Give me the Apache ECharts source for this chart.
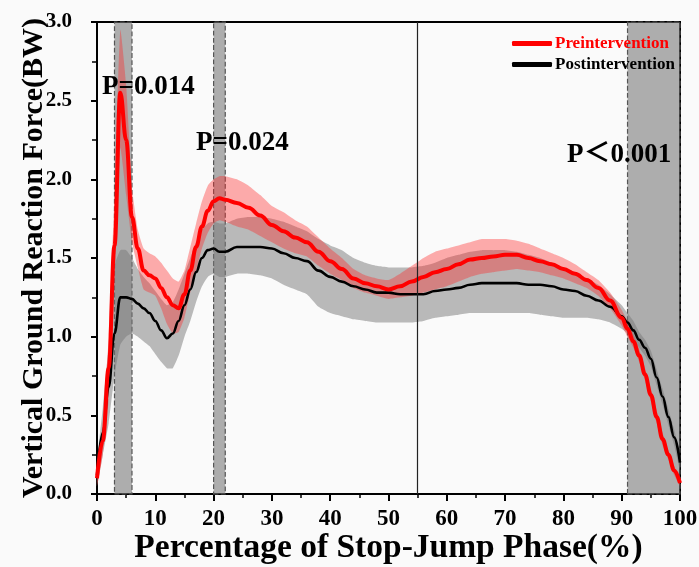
<!DOCTYPE html>
<html>
<head>
<meta charset="utf-8">
<script src="https://cdn.jsdelivr.net/npm/echarts@6/dist/echarts.min.js"></script>
<style>html,body{margin:0;padding:0;background:#fafafa;}#c{width:699px;height:567px;}</style>
</head>
<body>
<div id="c"></div>
<script>
var xs = [0,1,2,3,4,5,6,7,8,9,10,11,12,13,14,15,16,17,18,19,20,21,22,24,26,28,30,32,34,36,38,40,42,44,46,48,50,52,54,56,58,60,62,64,66,68,70,72,74,76,78,80,82,84,86,88,90,91,92,93,94,95,96,97,98,99,100];
var preMean = [0.10,0.34,0.80,1.58,2.55,2.25,1.76,1.56,1.42,1.39,1.37,1.31,1.25,1.20,1.18,1.27,1.42,1.57,1.70,1.80,1.86,1.88,1.87,1.85,1.82,1.77,1.71,1.67,1.63,1.60,1.54,1.48,1.43,1.37,1.34,1.32,1.30,1.32,1.35,1.38,1.41,1.43,1.46,1.49,1.50,1.51,1.52,1.52,1.50,1.48,1.46,1.43,1.40,1.36,1.31,1.23,1.12,1.05,0.97,0.88,0.76,0.63,0.49,0.35,0.25,0.15,0.07];
var preUpper = [0.15,0.45,1.00,1.90,2.95,2.60,1.95,1.68,1.56,1.53,1.51,1.47,1.42,1.37,1.35,1.42,1.57,1.72,1.86,1.96,2.00,2.02,2.02,2.00,1.96,1.90,1.83,1.79,1.74,1.70,1.63,1.56,1.50,1.43,1.39,1.37,1.36,1.40,1.45,1.50,1.54,1.56,1.58,1.60,1.62,1.62,1.62,1.61,1.59,1.56,1.53,1.50,1.46,1.41,1.36,1.28,1.17,1.10,1.01,0.92,0.80,0.67,0.53,0.39,0.28,0.18,0.09];
var preLower = [0.05,0.25,0.60,1.30,2.20,1.90,1.60,1.44,1.30,1.28,1.26,1.18,1.08,1.02,1.03,1.12,1.28,1.42,1.56,1.66,1.72,1.74,1.73,1.70,1.68,1.64,1.60,1.56,1.53,1.51,1.45,1.40,1.36,1.31,1.28,1.26,1.24,1.25,1.26,1.28,1.30,1.32,1.35,1.38,1.40,1.41,1.42,1.43,1.42,1.41,1.39,1.37,1.34,1.31,1.26,1.18,1.07,1.00,0.93,0.84,0.72,0.59,0.45,0.31,0.22,0.12,0.05];
var postMean = [0.12,0.39,0.68,1.02,1.25,1.25,1.24,1.21,1.18,1.15,1.10,1.04,0.99,1.02,1.10,1.20,1.30,1.41,1.50,1.55,1.56,1.54,1.54,1.57,1.57,1.57,1.56,1.53,1.50,1.48,1.42,1.38,1.35,1.32,1.30,1.28,1.28,1.27,1.27,1.27,1.29,1.30,1.31,1.33,1.34,1.34,1.34,1.34,1.33,1.33,1.32,1.30,1.29,1.26,1.23,1.19,1.13,1.09,1.04,0.98,0.93,0.86,0.74,0.62,0.49,0.36,0.20];
var postUpper = [0.20,0.55,0.95,1.45,1.55,1.55,1.50,1.43,1.38,1.34,1.29,1.24,1.20,1.22,1.30,1.40,1.50,1.60,1.68,1.72,1.73,1.72,1.72,1.75,1.76,1.76,1.75,1.73,1.70,1.67,1.62,1.58,1.55,1.50,1.47,1.45,1.44,1.44,1.44,1.45,1.47,1.50,1.52,1.54,1.55,1.55,1.55,1.54,1.52,1.50,1.47,1.44,1.41,1.37,1.33,1.27,1.20,1.15,1.10,1.03,0.98,0.91,0.79,0.67,0.54,0.41,0.25];
var postLower = [0.05,0.25,0.45,0.75,0.95,1.00,1.02,1.00,0.97,0.94,0.89,0.84,0.80,0.80,0.88,1.00,1.10,1.22,1.32,1.38,1.40,1.38,1.38,1.40,1.40,1.39,1.37,1.33,1.30,1.27,1.19,1.15,1.13,1.11,1.10,1.09,1.09,1.09,1.09,1.10,1.12,1.13,1.14,1.15,1.15,1.15,1.15,1.15,1.15,1.14,1.13,1.12,1.12,1.12,1.11,1.09,1.05,1.02,0.98,0.93,0.88,0.81,0.69,0.57,0.44,0.31,0.15];
var sigRanges = [[3,6],[20,22],[91,100]];
var sigLabels = ['P=0.014','P=0.024','P\uFF1C0.001'];
var xTicks = {min:0, max:100, interval:10};
var yTicks = {min:0, max:3, interval:0.5};

function pairs(a){ return xs.map(function(x,i){ return [x, a[i]]; }); }
function bandData(l,u){ return xs.map(function(x,i){ return [x, l[i], u[i]]; }); }

function bandSeries(name, lower, upper, color){
  return {
    name: name, type: 'custom', z: 2, silent: true,
    data: bandData(lower, upper),
    encode: {x: 0, y: [1, 2]},
    renderItem: function(params, api){
      if (params.dataIndex !== 0) return null;
      var top = [], bot = [];
      for (var i = 0; i < xs.length; i++) {
        top.push(api.coord([xs[i], upper[i]]));
        bot.push(api.coord([xs[i], lower[i]]));
      }
      var pts = top.concat(bot.reverse());
      return {type: 'polygon', shape: {points: pts, smooth: 0.15}, style: {fill: color, stroke: null}};
    }
  };
}

var FONT = "'Liberation Serif','Times New Roman',serif";
var chart = echarts.init(document.getElementById('c'));
var option = {
  backgroundColor: '#fafafa',
  animation: false,
  grid: {left: 97, right: 19, top: 22, bottom: 73, outerBoundsMode: 'none', containLabel: false, show: true, borderColor: '#000', borderWidth: 2, backgroundColor: 'transparent'},
  legend: {
    orient: 'vertical', left: 507, top: 30, itemWidth: 40, itemHeight: 5, itemGap: 4, icon: 'roundRect',
    textStyle: {fontFamily: FONT, fontWeight: 'bold', fontSize: 17, padding: [0,0,0,-2]},
    data: [{name: 'Preintervention', textStyle: {color: '#ff0000'}}, {name: 'Postintervention', textStyle: {color: '#000'}}]
  },
  xAxis: {
    type: 'value', min: xTicks.min, max: xTicks.max, interval: xTicks.interval,
    name: 'Percentage of Stop-Jump Phase(%)', nameLocation: 'middle', nameGap: 37, nameMoveOverlap: false,
    nameTextStyle: {fontFamily: FONT, fontWeight: 'bold', fontSize: 33.5, color: '#000'},
    axisLine: {lineStyle: {color: '#000', width: 2}},
    axisTick: {inside: false, length: 7, lineStyle: {color: '#000', width: 2}},
    minorTick: {show: true, splitNumber: 2, length: 4, lineStyle: {color: '#000', width: 1.5}},
    splitLine: {show: false},
    axisLabel: {fontFamily: FONT, fontWeight: 'bold', fontSize: 23, color: '#000', margin: 14}
  },
  yAxis: {
    type: 'value', min: yTicks.min, max: yTicks.max, interval: yTicks.interval,
    name: 'Vertical Ground Reaction Force(BW)', nameLocation: 'middle', nameGap: 48, nameMoveOverlap: false,
    nameTextStyle: {fontFamily: FONT, fontWeight: 'bold', fontSize: 30, color: '#000'},
    axisLine: {lineStyle: {color: '#000', width: 2}},
    axisTick: {inside: false, length: 6, lineStyle: {color: '#000', width: 2}},
    minorTick: {show: true, splitNumber: 2, length: 5, lineStyle: {color: '#000', width: 1.5}},
    splitLine: {show: false},
    axisLabel: {fontFamily: FONT, fontWeight: 'bold', fontSize: 21, color: '#000', margin: 25, formatter: function(v){ return v.toFixed(1); }}
  },
  graphic: [
    {type: 'text', x: 102, y: 87, z: 100, style: {text: sigLabels[0], fontFamily: FONT, fontWeight: 'bold', fontSize: 27, fill: '#000', verticalAlign: 'middle'}},
    {type: 'text', x: 196, y: 143, z: 100, style: {text: sigLabels[1], fontFamily: FONT, fontWeight: 'bold', fontSize: 27, fill: '#000', verticalAlign: 'middle'}},
    {type: 'text', x: 567, y: 155, z: 100, style: {text: sigLabels[2], fontFamily: FONT + ",'Noto Sans CJK SC'", fontWeight: 'bold', fontSize: 27, fill: '#000', verticalAlign: 'middle'}}
  ],
  series: [
    {name: 'marks', type: 'line', data: [], z: 1,
     markArea: {silent: true, itemStyle: {color: 'rgba(110,110,110,0.55)', borderColor: '#555', borderWidth: 1.2, borderType: 'dashed'},
       data: sigRanges.map(function(r){ return [{xAxis: r[0]}, {xAxis: r[1]}]; })},
     markLine: {silent: true, symbol: 'none', label: {show: false}, lineStyle: {color: '#222', width: 1.2, type: 'solid'},
       data: [{xAxis: 55}]}
    },
    bandSeries('postBand', postLower, postUpper, 'rgba(120,120,120,0.5)'),
    bandSeries('preBand', preLower, preUpper, 'rgba(255,40,40,0.38)'),
    {name: 'Postintervention', type: 'line', data: pairs(postMean), symbol: 'none', smooth: 0.4, smoothMonotone: 'x', color: '#000', lineStyle: {color: '#000', width: 2.6}, z: 3},
    {name: 'Preintervention', type: 'line', data: pairs(preMean), symbol: 'none', smooth: 0.4, smoothMonotone: 'x', color: '#ff0000', lineStyle: {color: '#ff0000', width: 4}, z: 4}
  ]
};
chart.setOption(option);
</script>
</body>
</html>
